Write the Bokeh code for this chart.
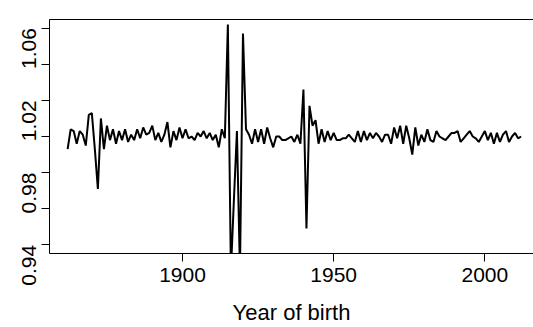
import math
from bokeh.plotting import figure
from bokeh.models import LinearAxis, FixedTicker, Range1d
from bokeh.embed import file_html
from bokeh.resources import INLINE

years = list(range(1862, 2013))
ratio = [
    # 1862-1871
    0.993, 1.004, 1.003, 0.996, 1.003, 1.001, 0.995, 1.012, 1.013, 0.993,
    # 1872-1881
    0.971, 1.010, 0.993, 1.006, 0.998, 1.004, 0.996, 1.003, 0.998, 1.004,
    # 1882-1891
    0.997, 1.001, 0.998, 1.004, 0.999, 1.005, 1.001, 1.002, 1.006, 0.998,
    # 1892-1901
    1.002, 0.997, 1.001, 1.008, 0.994, 1.003, 0.998, 1.005, 0.999, 1.004,
    # 1902-1911
    0.999, 1.000, 0.998, 1.002, 1.000, 1.003, 0.999, 1.002, 0.998, 1.001,
    # 1912-1921
    0.994, 1.004, 0.999, 1.062, 0.925, 0.965, 1.003, 0.925, 1.057, 1.004,
    # 1922-1931
    1.001, 0.996, 1.004, 0.997, 1.004, 0.996, 1.005, 0.999, 0.994, 1.000,
    # 1932-1941
    1.000, 0.998, 0.998, 0.999, 1.000, 0.997, 1.001, 0.996, 1.026, 0.949,
    # 1942-1951
    1.017, 1.006, 1.009, 0.996, 1.004, 0.997, 1.003, 0.998, 1.002, 0.998,
    # 1952-1961
    0.998, 0.999, 0.999, 1.001, 0.999, 0.997, 1.003, 0.997, 1.003, 0.998,
    # 1962-1971
    1.002, 0.999, 1.002, 1.000, 0.997, 1.001, 1.001, 0.996, 1.005, 0.999,
    # 1972-1981
    1.006, 0.996, 1.006, 0.999, 0.990, 1.005, 0.995, 1.001, 0.997, 1.004,
    # 1982-1991
    0.998, 0.997, 1.003, 1.000, 0.999, 0.998, 1.000, 1.002, 1.002, 1.003,
    # 1992-2001
    0.997, 0.999, 1.001, 1.003, 1.000, 0.999, 0.997, 1.000, 1.003, 0.998,
    # 2002-2012
    1.002, 0.996, 1.002, 0.997, 1.001, 1.003, 0.997, 1.000, 1.002, 0.999, 1.000,
]

x_ticks = [1900, 1950, 2000]
y_labelled_ticks = [0.94, 0.98, 1.02, 1.06]
y_unlabelled_ticks = [0.96, 1.00, 1.04]

FONT = "Liberation Sans"

p = figure(width=533, height=327,
           x_range=Range1d(1856.0, 2016.1), y_range=Range1d(0.9352, 1.0648),
           output_backend="svg", toolbar_location=None,
           min_border_left=49, min_border_right=0,
           min_border_top=19, min_border_bottom=74)
p.outline_line_color = None
p.grid.visible = False
p.background_fill_color = "white"
p.border_fill_color = "white"

p.line(years, ratio, line_color="black", line_width=2)

for ax in (p.xaxis[0], p.yaxis[0]):
    ax.axis_line_color = "black"
    ax.axis_line_width = 1
    ax.major_tick_line_color = "black"
    ax.major_tick_in = 0
    ax.major_tick_out = 8
    ax.minor_tick_line_color = None
    ax.major_label_text_font = FONT
    ax.major_label_text_font_size = "21px"
    ax.major_label_text_color = "black"

xa = p.xaxis[0]
xa.ticker = FixedTicker(ticks=x_ticks)
xa.major_label_standoff = 6
xa.axis_label = "Year of birth"
xa.axis_label_text_font = FONT
xa.axis_label_text_font_size = "22px"
xa.axis_label_text_font_style = "normal"
xa.axis_label_text_color = "black"
xa.axis_label_standoff = 15

ya = p.yaxis[0]
ya.ticker = FixedTicker(ticks=y_labelled_ticks, minor_ticks=y_unlabelled_ticks)
ya.minor_tick_line_color = "black"
ya.minor_tick_in = 0
ya.minor_tick_out = 8
ya.major_label_orientation = math.pi / 2
ya.major_label_standoff = 12

top = LinearAxis(axis_line_color="black", axis_line_width=1,
                 major_tick_line_color=None, minor_tick_line_color=None,
                 major_label_text_font_size="0px", ticker=FixedTicker(ticks=[]))
p.add_layout(top, "above")

open("out.html", "w").write(file_html(p, INLINE))
